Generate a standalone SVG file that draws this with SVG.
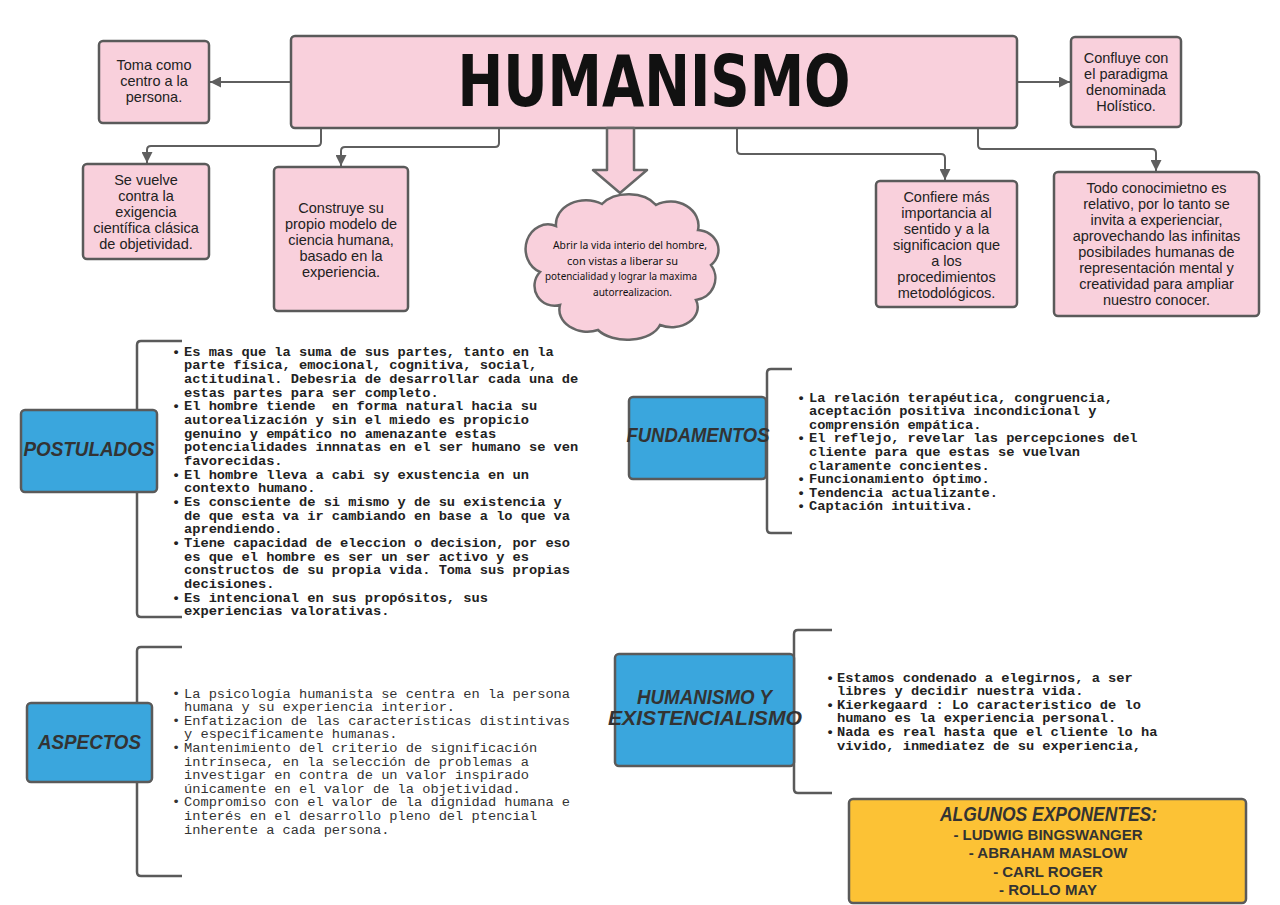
<svg xmlns="http://www.w3.org/2000/svg" width="1280" height="905" viewBox="0 0 1280 905">
<defs>
<marker id="ah" markerUnits="userSpaceOnUse" markerWidth="11" markerHeight="11" refX="10" refY="5" orient="auto" viewBox="0 0 10 10">
<path d="M0,0 L10,5 L0,10 z" fill="#5f5f5f"/>
</marker>
<style>
.pink{fill:#f9d0dc;stroke:#5a5a5a;stroke-width:2.5}
.blue{fill:#3aa6dd;stroke:#5a5a5a;stroke-width:2.5}
.gold{fill:#fcc235;stroke:#5a5a5a;stroke-width:2.5}
.br{fill:none;stroke:#5a5a5a;stroke-width:2.5}
.conn{fill:none;stroke:#5f5f5f;stroke-width:2}
.bt{font-family:"Liberation Sans",Arial,sans-serif;font-size:14.5px;fill:#222;text-anchor:middle}
.lab{font-family:"Liberation Sans",Arial,sans-serif;font-weight:bold;font-style:italic;font-size:20px;fill:#333;text-anchor:middle}
.mb{font-family:"Liberation Mono","Courier New",monospace;font-weight:bold;font-size:13.7px;fill:#222;white-space:pre}
.mr{font-family:"Liberation Mono","Courier New",monospace;font-size:13.7px;fill:#333;white-space:pre}
.cl{font-family:"Noto Sans","Liberation Sans",sans-serif;font-size:10.5px;fill:#111}
.ex{font-family:"Liberation Sans",Arial,sans-serif;font-weight:bold;font-size:15px;fill:#333;text-anchor:middle}
</style>
</defs>
<rect width="1280" height="905" fill="#ffffff"/>

<g id="connectors">
<path class="conn" d="M291,82 H210" marker-end="url(#ah)"/>
<path class="conn" d="M1017,82 H1070" marker-end="url(#ah)"/>
<path class="conn" d="M321,128 V142 Q321,146 317,146 H151 Q147,146 147,150 V163" marker-end="url(#ah)"/>
<path class="conn" d="M499,128 V143 Q499,147 495,147 H345 Q341,147 341,151 V166" marker-end="url(#ah)"/>
<path class="conn" d="M737,128 V150 Q737,154 741,154 H941 Q945,154 945,158 V180" marker-end="url(#ah)"/>
<path class="conn" d="M978,128 V145 Q978,149 982,149 H1152 Q1156,149 1156,153 V171" marker-end="url(#ah)"/>
</g>

<g id="brackets">
<path class="br" d="M182,341 H141 Q137,341 137,345 V613 Q137,617 141,617 H182"/>
<path class="br" d="M792,369 H771 Q767,369 767,373 V529 Q767,533 771,533 H792"/>
<path class="br" d="M182,647 H141 Q137,647 137,651 V872 Q137,876 141,876 H182"/>
<path class="br" d="M832,630 H798 Q794,630 794,634 V789 Q794,793 798,793 H832"/>
</g>

<g id="humanismo">
<rect class="pink" x="291" y="36" width="726" height="92" rx="4"/>
<text x="654" y="106" font-family="'DejaVu Sans Condensed','DejaVu Sans',sans-serif" font-weight="bold" font-size="72" fill="#111" text-anchor="middle" textLength="393" lengthAdjust="spacingAndGlyphs">HUMANISMO</text>
</g>

<g id="toma">
<rect class="pink" x="99" y="41" width="110" height="82" rx="4"/>
<text class="bt" x="154" y="70">Toma como</text>
<text class="bt" x="154" y="86">centro a la</text>
<text class="bt" x="154" y="102">persona.</text>
</g>

<g id="confluye">
<rect class="pink" x="1071" y="37" width="110" height="90" rx="4"/>
<text class="bt" x="1126" y="63">Confluye con</text>
<text class="bt" x="1126" y="79">el paradigma</text>
<text class="bt" x="1126" y="95">denominada</text>
<text class="bt" x="1126" y="111">Holístico.</text>
</g>

<g id="sevuelve">
<rect class="pink" x="83" y="164" width="126" height="95" rx="4"/>
<text class="bt" x="146" y="185">Se vuelve</text>
<text class="bt" x="146" y="201">contra la</text>
<text class="bt" x="146" y="217">exigencia</text>
<text class="bt" x="146" y="233">científica clásica</text>
<text class="bt" x="146" y="249">de objetividad.</text>
</g>

<g id="construye">
<rect class="pink" x="274" y="167" width="134" height="144" rx="4"/>
<text class="bt" x="341" y="213">Construye su</text>
<text class="bt" x="341" y="229">propio modelo de</text>
<text class="bt" x="341" y="245">ciencia humana,</text>
<text class="bt" x="341" y="261">basado en la</text>
<text class="bt" x="341" y="277">experiencia.</text>
</g>

<g id="nube">
<polygon points="607,128 634,128 634,170 647,170 620,193 593,170 607,170" fill="#f9d0dc" stroke="#666" stroke-width="2.5" stroke-linejoin="round"/>
<path d="M556,226 A30,24 0 0 1 602,204 A32,22 0 0 1 656,205 A28,24 0 0 1 698,230 A22,20 0 0 1 711,265 A22,22 0 0 1 696,300 A26,20 0 0 1 660,325 A34,20 0 0 1 598,330 A28,22 0 0 1 560,305 A20,20 0 0 1 540,272 A20,22 0 0 1 556,226 Z" fill="#f9d0dc" stroke="#666" stroke-width="2.5"/>
<text class="cl" x="553" y="249" textLength="154" lengthAdjust="spacingAndGlyphs">Abrir la vida interio del hombre,</text>
<text class="cl" x="567" y="265" textLength="111" lengthAdjust="spacingAndGlyphs">con vistas a liberar su</text>
<text class="cl" x="545" y="280" textLength="152" lengthAdjust="spacingAndGlyphs">potencialidad y lograr la maxima</text>
<text class="cl" x="593" y="296" textLength="79" lengthAdjust="spacingAndGlyphs">autorrealizacion.</text>
</g>

<g id="confiere">
<rect class="pink" x="876" y="181" width="141" height="126" rx="4"/>
<text class="bt" x="946.5" y="202">Confiere más</text>
<text class="bt" x="946.5" y="218">importancia al</text>
<text class="bt" x="946.5" y="234">sentido y a la</text>
<text class="bt" x="946.5" y="250">significacion que</text>
<text class="bt" x="946.5" y="266">a los</text>
<text class="bt" x="946.5" y="282">procedimientos</text>
<text class="bt" x="946.5" y="298">metodológicos.</text>
</g>

<g id="todo">
<rect class="pink" x="1054" y="172" width="205" height="144" rx="4"/>
<text class="bt" x="1156.5" y="193">Todo conocimietno es</text>
<text class="bt" x="1156.5" y="209">relativo, por lo tanto se</text>
<text class="bt" x="1156.5" y="225">invita a experienciar,</text>
<text class="bt" x="1156.5" y="241">aprovechando las infinitas</text>
<text class="bt" x="1156.5" y="257">posibilades humanas de</text>
<text class="bt" x="1156.5" y="273">representación mental y</text>
<text class="bt" x="1156.5" y="289">creatividad para ampliar</text>
<text class="bt" x="1156.5" y="305">nuestro conocer.</text>
</g>

<g id="postulados">
<rect class="blue" x="21" y="410" width="136" height="82" rx="4"/>
<text class="lab" x="89" y="456" textLength="131" lengthAdjust="spacingAndGlyphs">POSTULADOS</text>
<text class="mb" y="355.5">
<tspan x="172">•</tspan><tspan x="184">Es mas que la suma de sus partes, tanto en la</tspan>
<tspan x="184" dy="13.68">parte física, emocional, cognitiva, social,</tspan>
<tspan x="184" dy="13.68">actitudinal. Debesria de desarrollar cada una de</tspan>
<tspan x="184" dy="13.68">estas partes para ser completo.</tspan>
<tspan x="172" dy="13.68">•</tspan><tspan x="184">El hombre tiende  en forma natural hacia su</tspan>
<tspan x="184" dy="13.68">autorealización y sin el miedo es propicio</tspan>
<tspan x="184" dy="13.68">genuino y empático no amenazante estas</tspan>
<tspan x="184" dy="13.68">potencialidades innnatas en el ser humano se ven</tspan>
<tspan x="184" dy="13.68">favorecidas.</tspan>
<tspan x="172" dy="13.68">•</tspan><tspan x="184">El hombre lleva a cabi sy exustencia en un</tspan>
<tspan x="184" dy="13.68">contexto humano.</tspan>
<tspan x="172" dy="13.68">•</tspan><tspan x="184">Es consciente de si mismo y de su existencia y</tspan>
<tspan x="184" dy="13.68">de que esta va ir cambiando en base a lo que va</tspan>
<tspan x="184" dy="13.68">aprendiendo.</tspan>
<tspan x="172" dy="13.68">•</tspan><tspan x="184">Tiene capacidad de eleccion o decision, por eso</tspan>
<tspan x="184" dy="13.68">es que el hombre es ser un ser activo y es</tspan>
<tspan x="184" dy="13.68">constructos de su propia vida. Toma sus propias</tspan>
<tspan x="184" dy="13.68">decisiones.</tspan>
<tspan x="172" dy="13.68">•</tspan><tspan x="184">Es intencional en sus propósitos, sus</tspan>
<tspan x="184" dy="13.68">experiencias valorativas.</tspan>
</text>
</g>

<g id="fundamentos">
<rect class="blue" x="629" y="397" width="137" height="82" rx="4"/>
<text class="lab" x="698" y="442" textLength="143" lengthAdjust="spacingAndGlyphs">FUNDAMENTOS</text>
<text class="mb" y="401.5" font-size="13.4">
<tspan x="797">•</tspan><tspan x="809">La relación terapéutica, congruencia,</tspan>
<tspan x="809" dy="13.6">aceptación positiva incondicional y</tspan>
<tspan x="809" dy="13.6">comprensión empática.</tspan>
<tspan x="797" dy="13.6">•</tspan><tspan x="809">El reflejo, revelar las percepciones del</tspan>
<tspan x="809" dy="13.6">cliente para que estas se vuelvan</tspan>
<tspan x="809" dy="13.6">claramente concientes.</tspan>
<tspan x="797" dy="13.6">•</tspan><tspan x="809">Funcionamiento óptimo.</tspan>
<tspan x="797" dy="13.6">•</tspan><tspan x="809">Tendencia actualizante.</tspan>
<tspan x="797" dy="13.6">•</tspan><tspan x="809">Captación intuitiva.</tspan>
</text>
</g>

<g id="aspectos">
<rect class="blue" x="27" y="703" width="125" height="79" rx="4"/>
<text class="lab" x="89.5" y="749" textLength="103" lengthAdjust="spacingAndGlyphs">ASPECTOS</text>
<text class="mr" y="697.5">
<tspan x="172">•</tspan><tspan x="184">La psicología humanista se centra en la persona</tspan>
<tspan x="184" dy="13.6">humana y su experiencia interior.</tspan>
<tspan x="172" dy="13.6">•</tspan><tspan x="184">Enfatizacion de las características distintivas</tspan>
<tspan x="184" dy="13.6">y especificamente humanas.</tspan>
<tspan x="172" dy="13.6">•</tspan><tspan x="184">Mantenimiento del criterio de significación</tspan>
<tspan x="184" dy="13.6">intrínseca, en la selección de problemas a</tspan>
<tspan x="184" dy="13.6">investigar en contra de un valor inspirado</tspan>
<tspan x="184" dy="13.6">únicamente en el valor de la objetividad.</tspan>
<tspan x="172" dy="13.6">•</tspan><tspan x="184">Compromiso con el valor de la dignidad humana e</tspan>
<tspan x="184" dy="13.6">interés en el desarrollo pleno del ptencial</tspan>
<tspan x="184" dy="13.6">inherente a cada persona.</tspan>
</text>
</g>

<g id="existencialismo">
<rect class="blue" x="615" y="654" width="179" height="112" rx="4"/>
<text class="lab" x="704.5" y="704" textLength="135" lengthAdjust="spacingAndGlyphs">HUMANISMO Y</text>
<text class="lab" x="705" y="725" textLength="194" lengthAdjust="spacingAndGlyphs">EXISTENCIALISMO</text>
<text class="mb" y="681.5">
<tspan x="826">•</tspan><tspan x="837">Estamos condenado a elegirnos, a ser</tspan>
<tspan x="837" dy="13.6">libres y decidir nuestra vida.</tspan>
<tspan x="826" dy="13.6">•</tspan><tspan x="837">Kierkegaard : Lo caracteristico de lo</tspan>
<tspan x="837" dy="13.6">humano es la experiencia personal.</tspan>
<tspan x="826" dy="13.6">•</tspan><tspan x="837">Nada es real hasta que el cliente lo ha</tspan>
<tspan x="837" dy="13.6">vivido, inmediatez de su experiencia,</tspan>
</text>
</g>

<g id="exponentes">
<rect class="gold" x="849" y="799" width="397" height="104" rx="4"/>
<text class="lab" x="1048.5" y="821" font-size="19" textLength="217" lengthAdjust="spacingAndGlyphs">ALGUNOS EXPONENTES:</text>
<text class="ex" x="1048" y="839.5">- LUDWIG BINGSWANGER</text>
<text class="ex" x="1048" y="858">- ABRAHAM MASLOW</text>
<text class="ex" x="1048" y="876.5">- CARL ROGER</text>
<text class="ex" x="1048" y="894.5">- ROLLO MAY</text>
</g>
</svg>
